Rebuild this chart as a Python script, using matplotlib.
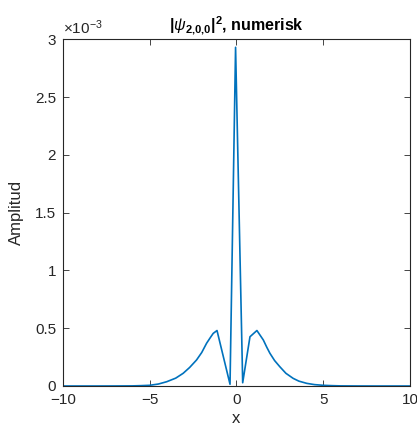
import matplotlib
matplotlib.use("Agg")
import matplotlib.pyplot as plt
from matplotlib.ticker import FuncFormatter

plt.rcParams['font.family'] = ['Liberation Sans', 'DejaVu Sans']
plt.rcParams['mathtext.fontset'] = 'custom'
plt.rcParams['mathtext.rm'] = 'Liberation Sans'
plt.rcParams['mathtext.it'] = 'Liberation Sans:italic'
plt.rcParams['mathtext.bf'] = 'Liberation Sans:bold'

# values (amplitude in units of 1e-3)
x = [-10, -8, -7, -6, -5.5, -5, -4.5, -4.02, -3.5, -3.07, -2.7, -2.3, -2.0, -1.72,
     -1.5, -1.34, -1.12, -0.37, -0.05, 0.36, 0.78, 1.18, 1.55, 1.75, 1.93, 2.2,
     2.5, 2.85, 3.27, 3.6, 4.05, 4.5, 5, 5.5, 6, 7, 8, 10]
amp = [0.0, 0.0, 0.0003, 0.001, 0.003, 0.006, 0.017, 0.037, 0.068, 0.11, 0.16, 0.225,
       0.29, 0.37, 0.42, 0.455, 0.48, 0.015, 2.93, 0.028, 0.426, 0.48, 0.398, 0.335,
       0.283, 0.22, 0.167, 0.11, 0.066, 0.042, 0.023, 0.012, 0.006, 0.003, 0.001,
       0.0003, 0.0, 0.0]
y = [a * 1e-3 for a in amp]

xticks = [-10, -5, 0, 5, 10]
yticks = [0, 0.5e-3, 1e-3, 1.5e-3, 2e-3, 2.5e-3, 3e-3]

fig = plt.figure(figsize=(4.17, 4.34), dpi=100)
ax = fig.add_axes([0.151, 0.1106, 0.832, 0.799])
ax.plot(x, y, color='#0072BD', lw=1.2)

ax.set_xlim(-10, 10)
ax.set_ylim(0, 3e-3)
ax.set_xticks(xticks)
ax.set_yticks(yticks)
ax.yaxis.set_major_formatter(FuncFormatter(lambda v, p: ('%g' % round(v * 1e3, 3))))

grey = '#262626'
for s in ax.spines.values():
    s.set_color(grey)
    s.set_linewidth(0.8)
ax.tick_params(direction='in', top=True, right=True, length=4, width=0.6,
               colors=grey, labelsize=11, pad=5)

ax.text(0.0, 1.005, r'$\times 10^{-3}$', transform=ax.transAxes, fontsize=11,
        color=grey, ha='left', va='bottom')
ax.set_title(r'$\mathbf{|}\psi_{\mathbf{2{,}0{,}0}}\mathbf{|^2}$, numerisk', fontsize=11.5,
             fontweight='bold', color='black', pad=6)
ax.set_xlabel('x', fontsize=12, color=grey, labelpad=3)
ax.set_ylabel('Amplitud', fontsize=12, color=grey, labelpad=8)

fig.savefig('out.png', dpi=100)
